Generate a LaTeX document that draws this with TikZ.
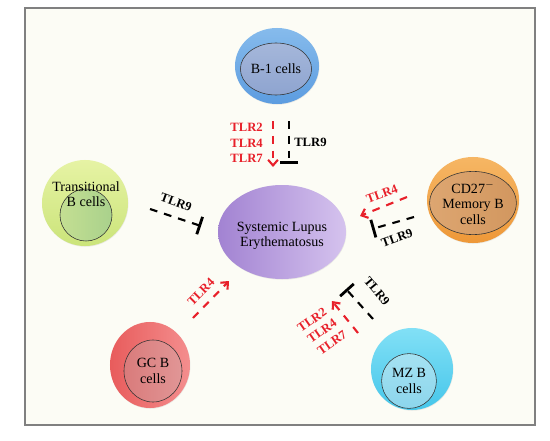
\documentclass[tikz,border=0pt]{standalone}
\usepackage{fontspec}
\setmainfont{Liberation Serif}
\usetikzlibrary{arrows.meta,shapes.geometric,shadows,positioning}
\definecolor{tlrred}{HTML}{E8202A}
\definecolor{paper}{HTML}{FCFCF5}
\definecolor{bonetop}{HTML}{86BBEC}\definecolor{bonebot}{HTML}{5C9CE0}
\definecolor{bonein}{HTML}{A5B7DA}\definecolor{boneinb}{HTML}{8EA4D0}
\definecolor{trtop}{HTML}{E6F3A4}\definecolor{trbot}{HTML}{CBE47A}
\definecolor{trin}{HTML}{C4DF92}\definecolor{trinb}{HTML}{A9D18C}
\definecolor{sleleft}{HTML}{A283D2}\definecolor{sleright}{HTML}{D5C3EE}
\definecolor{memtop}{HTML}{F6B664}\definecolor{membot}{HTML}{EE9838}
\definecolor{memin}{HTML}{DDA671}\definecolor{meminb}{HTML}{D2975F}
\definecolor{gcleft}{HTML}{E85C5C}\definecolor{gcright}{HTML}{F48E8E}
\definecolor{gcin}{HTML}{D97B7B}\definecolor{gcinb}{HTML}{E19696}
\definecolor{mztop}{HTML}{82E0F6}\definecolor{mzbot}{HTML}{45C6EA}
\definecolor{mzin}{HTML}{A5E2F2}\definecolor{mzinb}{HTML}{8CD5EC}

\begin{document}
\begin{tikzpicture}[x=0.025cm,y=-0.025cm,
  cell/.style={ellipse,inner sep=0pt,drop shadow={opacity=0.15,shadow xshift=0.3pt,shadow yshift=-0.5pt}},
  core/.style={ellipse,inner sep=0pt,draw=black!80,thin,align=center,font=\fontsize{10}{11}\selectfont},
  celltext/.style={align=center,font=\fontsize{10}{11}\selectfont},
  tlr/.style={font=\bfseries\fontsize{9}{9.5}\selectfont,inner sep=0pt},
  act/.style={tlrred,line width=1.5pt,dash pattern=on 5.5pt off 5pt,-{Straight Barb[length=4pt,width=7pt,line width=1.5pt]}},
  inh/.style={black,line width=1.5pt,dash pattern=on 5.5pt off 5pt,-{Bar[width=13pt,line width=2pt]}}]
\useasboundingbox (0,0) rectangle (550,440);
\draw[gray,line width=1.3pt,fill=paper] (25,8) rectangle (535,425);

% central disease node
\node[cell,minimum width=128*0.025cm,minimum height=94*0.025cm,left color=sleleft,right color=sleright]
  (sle) at (282,232) {};
\node[celltext] (sletext) at (282,236) {Systemic Lupus\\Erythematosus};

% B-1 cells
\node[cell,minimum width=2.1cm,minimum height=1.9cm,top color=bonetop,bottom color=bonebot] (b1) at (277,66) {};
\node[core,minimum width=1.4cm,minimum height=1.3cm,top color=bonein,bottom color=boneinb] (b1core) at (276,69) {B-1 cells};

% Transitional B cells
\node[cell,minimum width=2.15cm,minimum height=2.15cm,top color=trtop,bottom color=trbot] (tr) at (85,203) {};
\node[core,minimum width=1.3cm,minimum height=1.3cm,left color=trin,right color=trinb] (trcore) at (86,215) {};
\node[celltext] (trtext) at (86,194) {Transitional\\B cells};

% CD27- memory B cells
\node[cell,minimum width=2.3cm,minimum height=2.15cm,top color=memtop,bottom color=membot] (mem) at (473,200) {};
\node[core,minimum width=1.58cm,minimum height=1.58cm,left color=memin,right color=meminb] (memcore) at (473,203) {CD27$^{-}$\\Memory B\\cells};

% GC B cells
\node[cell,minimum width=2.0cm,minimum height=2.15cm,left color=gcleft,right color=gcright] (gc) at (150,365) {};
\node[core,minimum width=1.45cm,minimum height=1.55cm,left color=gcin,right color=gcinb] (gccore) at (153,371) {GC B\\cells};

% MZ B cells
\node[cell,minimum width=2.05cm,minimum height=2.05cm,top color=mztop,bottom color=mzbot] (mz) at (412,369) {};
\node[core,minimum width=1.37cm,minimum height=1.37cm,top color=mzin,bottom color=mzinb] (mzcore) at (409,381) {MZ B\\cells};

% end points of the signalling lines
\coordinate (b1a) at (273,121); \coordinate (b1b) at (273,167);
\coordinate (b1c) at (289,121); \coordinate (b1d) at (289,164);
\coordinate (tra) at (150,209); \coordinate (trb) at (201,226);
\coordinate (mema) at (407,197); \coordinate (memb) at (360,216);
\coordinate (memc) at (414,217); \coordinate (memd) at (372,229);
\coordinate (gca) at (193,318); \coordinate (gcb) at (229,281);
\coordinate (mza) at (358,333); \coordinate (mzb) at (332,301);
\coordinate (mzc) at (373,319); \coordinate (mzd) at (346,289);

\draw[act] (b1a) -- (b1b);
\draw[inh] (b1c) -- (b1d);
\draw[inh] (tra) -- (trb);
\draw[act] (mema) -- (memb);
\draw[inh] (memc) -- (memd);
\draw[act] (gca) -- (gcb);
\draw[act] (mza) -- (mzb);
\draw[inh] (mzc) -- (mzd);

% labels
\node[tlr,tlrred,anchor=east] (b1t2) at (263,127) {TLR2};
\node[tlr,tlrred,anchor=east] (b1t4) at (263,143) {TLR4};
\node[tlr,tlrred,anchor=east] (b1t7) at (263,158) {TLR7};
\node[tlr,anchor=west] (b1t9) at (294,142) {TLR9};
\node[tlr,rotate=-20] (trt9) at (176,202) {TLR9};
\node[tlr,tlrred,rotate=20] (memt4) at (382,194) {TLR4};
\node[tlr,rotate=20] (memt9) at (397,238) {TLR9};
\node[tlr,tlrred,rotate=45] (gct4) at (201,292) {TLR4};
\node[tlr,tlrred,rotate=35] (mzt2) at (312,320) {TLR2};
\node[tlr,tlrred,rotate=35] (mzt4) at (322,331) {TLR4};
\node[tlr,tlrred,rotate=35] (mzt7) at (332,343) {TLR7};
\node[tlr,rotate=-50] (mzt9) at (377,291) {TLR9};
\end{tikzpicture}
\end{document}
